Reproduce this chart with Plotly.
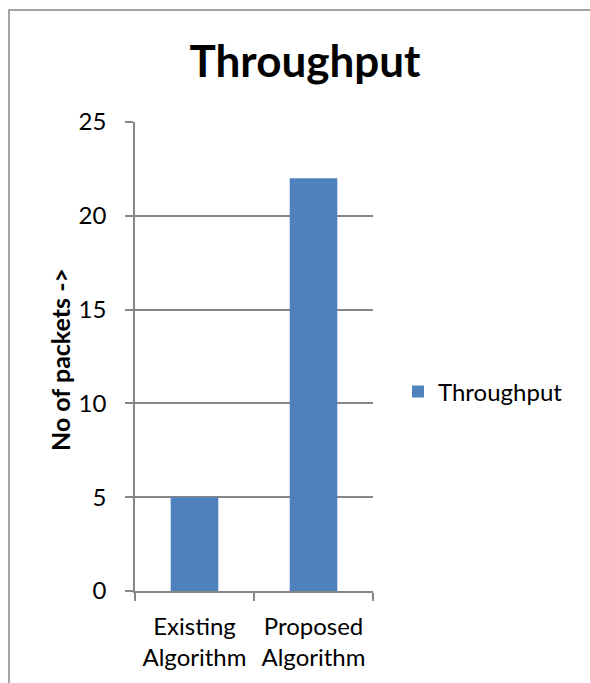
import plotly.graph_objects as go

# Data
categories = ["Existing<br>Algorithm", "Proposed<br>Algorithm"]
throughput = [5, 22]
y_ticks = [0, 5, 10, 15, 20, 25]

# Layout geometry (pixels)
W, H = 590, 683
L, R, T, B = 135, 217, 122, 92
pw = W - L - R
ph = H - T - B

def px_x(x):
    return (x - L) / pw

def px_y(y):
    return (H - B - y) / ph

FONT = "Lato"
GRID = "#868686"

fig = go.Figure()
fig.add_trace(go.Bar(
    x=categories,
    y=throughput,
    name="Throughput",
    marker=dict(color="#4f81bd", line=dict(width=0)),
    width=0.4,
))

fig.update_layout(
    width=W,
    height=H,
    margin=dict(l=L, r=R, t=T, b=B, pad=0),
    paper_bgcolor="white",
    plot_bgcolor="white",
    font=dict(family=FONT, size=24, color="#000000"),
    title=dict(
        text="<b>Throughput</b>",
        font=dict(family=FONT, size=44, color="#000000"),
        x=305 / W, xref="container", xanchor="center",
        y=1 - 62 / H, yref="container", yanchor="middle",
    ),
    showlegend=True,
    legend=dict(
        x=px_x(398), y=px_y(392), xanchor="left", yanchor="middle",
        font=dict(family=FONT, size=24, color="#000000"),
        bgcolor="rgba(0,0,0,0)",
    ),
    xaxis=dict(
        showgrid=False,
        showline=True, linecolor=GRID, linewidth=1.5,
        ticks="outside", tickson="boundaries", ticklen=8, tickcolor=GRID, tickwidth=1.5,
        tickfont=dict(family=FONT, size=24, color="#000000"),
        ticklabelstandoff=13,
        range=[-0.5, 1.5],
        fixedrange=True,
    ),
    yaxis=dict(
        range=[0, 25],
        tickvals=y_ticks,
        showgrid=True, gridcolor=GRID, gridwidth=1.5,
        showline=True, linecolor=GRID, linewidth=1.5,
        ticks="outside", ticklen=8, tickcolor=GRID, tickwidth=1.5,
        tickfont=dict(family=FONT, size=24, color="#000000"),
        ticklabelstandoff=14,
        zeroline=False,
        fixedrange=True,
    ),
    shapes=[dict(
        type="rect", xref="paper", yref="paper",
        x0=px_x(9), x1=px_x(640), y0=px_y(730), y1=px_y(10),
        line=dict(color=GRID, width=1.5), fillcolor="rgba(0,0,0,0)", layer="below",
    )],
    annotations=[dict(
        text="<b>No of packets -></b>",
        xref="paper", yref="paper",
        x=px_x(60), y=px_y(360), xanchor="center", yanchor="middle",
        textangle=-90, showarrow=False,
        font=dict(family=FONT, size=25, color="#000000"),
    )],
)

fig.write_html("out.html")
